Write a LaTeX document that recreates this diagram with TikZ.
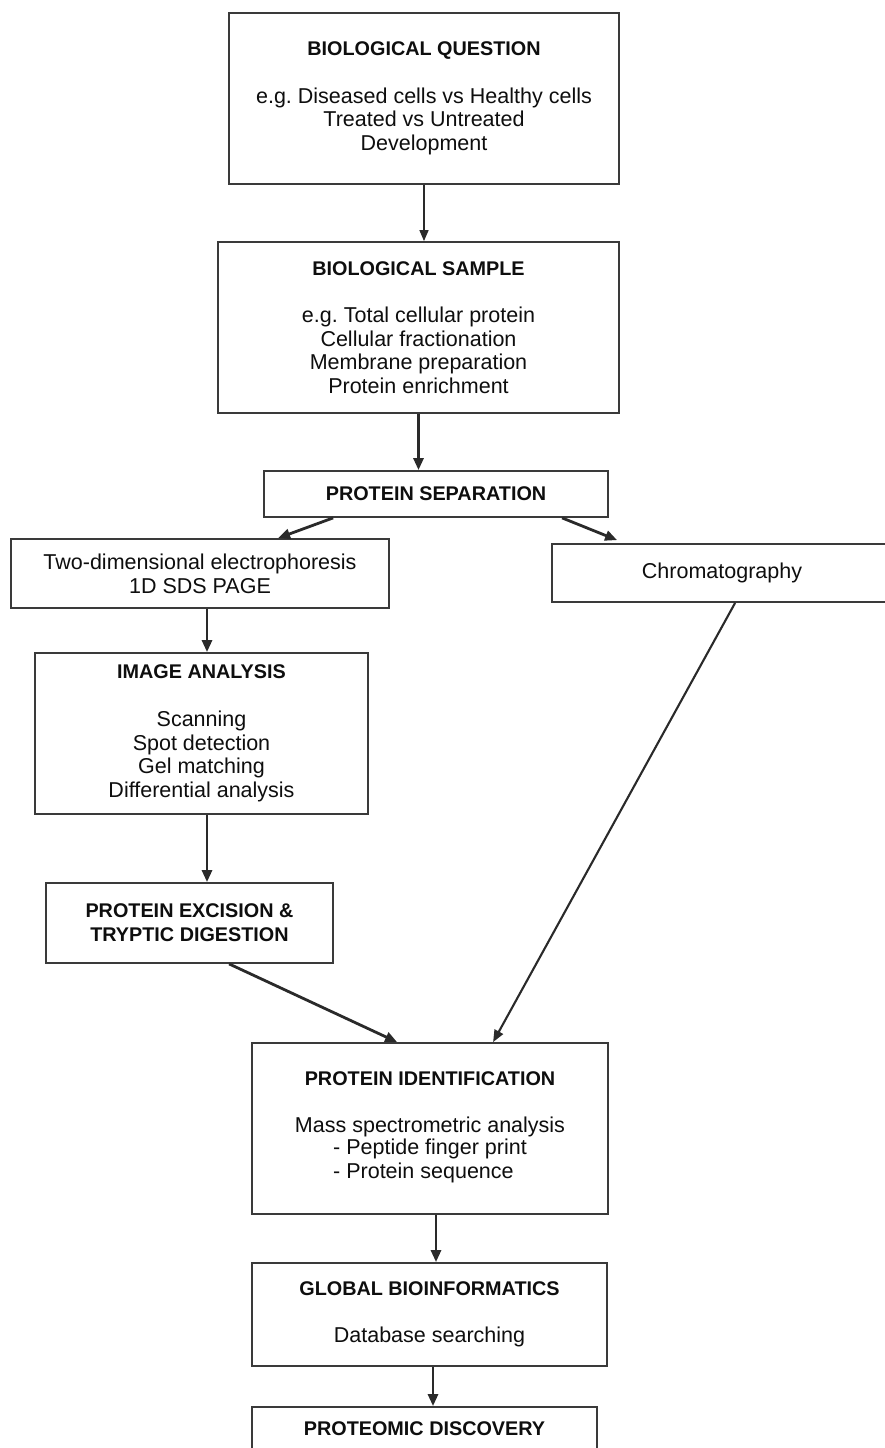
\documentclass[tikz,border=0pt]{standalone}
\usepackage{fontspec}
\setmainfont{Liberation Sans}
\usepackage{xcolor}
\usetikzlibrary{positioning, arrows.meta, calc}
\definecolor{frame}{HTML}{3A3A3A}
\definecolor{link}{HTML}{2A2A2A}
\definecolor{textmain}{HTML}{0E0E0E}
\frenchspacing

\newcommand{\boxtitle}[1]{{\fontsize{19.8}{23.7}\selectfont\bfseries #1}}

\begin{document}
\begin{tikzpicture}[
    x=1pt, y=-1pt,
    box/.style={rectangle, draw=frame, line width=1.8pt, fill=white, text=textmain,
                inner sep=0pt, align=center, font=\fontsize{21.5}{23.7}\selectfont},
    arrow/.style={-{Triangle[length=12pt, width=10pt]}, line width=2.8pt, link},
    thinarrow/.style={-{Triangle[length=11pt, width=9pt]}, line width=1.5pt, link},
    midarrow/.style={-{Triangle[length=12pt, width=9.5pt]}, line width=2.1pt, link}
  ]
    \useasboundingbox (0,0) rectangle (885,1448);

    \node[box, minimum width=390pt, minimum height=171pt] (question) at (424,98.5)
      {\boxtitle{BIOLOGICAL QUESTION}\\[23.7pt]e.g. Diseased cells vs Healthy cells\\Treated vs Untreated\\Development};
    \node[box, minimum width=401pt, minimum height=171pt] (sample) at (418.5,327.5)
      {\boxtitle{BIOLOGICAL SAMPLE}\\[23.7pt]e.g. Total cellular protein\\Cellular fractionation\\Membrane preparation\\Protein enrichment};
    \node[box, minimum width=344pt, minimum height=46pt] (separation) at (436,494)
      {\boxtitle{PROTEIN SEPARATION}};
    \node[box, minimum width=378pt, minimum height=69pt] (twod) at (200,573.5)
      {Two-dimensional electrophoresis\\1D SDS PAGE};
    \node[box, minimum width=340pt, minimum height=58pt] (chrom) at (722,573)
      {Chromatography};
    \node[box, minimum width=333pt, minimum height=161pt] (imaging) at (201.5,733.5)
      {\boxtitle{IMAGE ANALYSIS}\\[23.7pt]Scanning\\Spot detection\\Gel matching\\Differential analysis};
    \node[box, minimum width=287pt, minimum height=80pt] (excision) at (189.5,923)
      {\boxtitle{PROTEIN EXCISION \&}\\\boxtitle{TRYPTIC DIGESTION}};
    \node[box, minimum width=356pt, minimum height=171pt] (ident) at (430,1128.5)
      {\boxtitle{PROTEIN IDENTIFICATION}\\[23.7pt]Mass spectrometric analysis\\
       \begin{tabular}{@{}l@{}}- Peptide finger print\\- Protein sequence\end{tabular}};
    \node[box, minimum width=355pt, minimum height=103pt] (bioinf) at (429.5,1314.5)
      {\boxtitle{GLOBAL BIOINFORMATICS}\\[23.7pt]Database searching};
    \node[box, minimum width=345pt, minimum height=44pt] (discovery) at (424.5,1429)
      {\boxtitle{PROTEOMIC DISCOVERY}};

    \draw[thinarrow] (question.south) -- (question.south |- sample.north);
    \draw[arrow] (sample.south) -- (sample.south |- separation.north);
    \draw[arrow] ($(separation.south west)+(70,0)$) -- ($(twod.north west)+(268,0)$);
    \draw[arrow] ($(separation.south west)+(299,0)$) -- ($(chrom.north west)+(66,-3)$);
    \draw[arrow] ([xshift=7pt]twod.south) -- ([xshift=5.5pt]imaging.north);
    \draw[arrow] ([xshift=5.5pt]imaging.south) -- ([xshift=17.5pt]excision.north);
    \draw[arrow] ($(excision.south west)+(184,0)$) -- ($(ident.north west)+(146,0)$);
    \draw[midarrow] ($(chrom.south west)+(184,0)$) -- ($(ident.north west)+(242,0)$);
    \draw[arrow] ([xshift=6pt]ident.south) -- ([xshift=6.5pt]bioinf.north);
    \draw[arrow] ([xshift=3.5pt]bioinf.south) -- ([xshift=8.5pt]discovery.north);
  \end{tikzpicture}
\end{document}
